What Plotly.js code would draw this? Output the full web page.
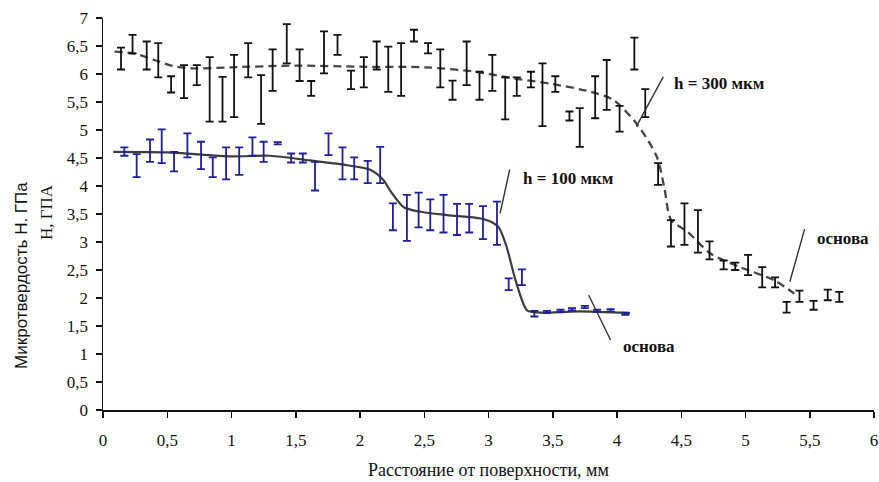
<!DOCTYPE html>
<html>
<head>
<meta charset="utf-8">
<script src="https://cdn.plot.ly/plotly-3.0.1.min.js"></script>
<style>html,body{margin:0;padding:0;background:#fff;}#chart{width:879px;height:482px;}</style>
</head>
<body>
<div id="chart"></div>
<script>
// h = 300 мкм : measured ranges (low / high) at each distance
const x300  = [0.14,0.23,0.34,0.43,0.53,0.63,0.73,0.83,0.93,1.02,1.13,1.23,1.32,1.43,1.53,1.62,1.72,1.825,1.93,2.03,2.13,2.22,2.32,2.42,2.53,2.625,2.72,2.83,2.93,3.03,3.13,3.22,3.33,3.42,3.52,3.63,3.71,3.83,3.92,4.02,4.135,4.22,4.32,4.42,4.525,4.63,4.72,4.83,4.92,5.02,5.13,5.23,5.32,5.42,5.53,5.64,5.73];
const lo300 = [6.08,6.37,6.08,5.94,5.67,5.57,5.80,5.15,5.15,5.23,5.94,5.11,5.70,6.19,5.875,5.61,6.01,6.34,5.73,5.76,6.08,5.68,5.61,6.58,6.37,5.76,5.54,5.80,5.54,5.70,5.19,5.61,5.76,5.07,5.68,5.17,4.70,5.21,5.36,4.97,6.08,5.23,4.02,2.92,2.95,2.81,2.69,2.51,2.50,2.41,2.19,2.19,1.74,1.93,1.79,1.96,1.93];
const hi300 = [6.47,6.70,6.58,6.55,5.96,6.16,6.16,6.30,5.95,6.34,6.55,5.98,6.44,6.89,6.44,5.875,6.76,6.70,6.06,6.30,6.58,6.49,6.55,6.79,6.55,6.44,5.88,6.58,6.04,6.34,5.94,5.94,6.04,6.19,5.96,5.33,5.39,5.96,6.25,5.43,6.65,5.73,4.41,3.39,3.69,3.57,3.01,2.67,2.63,2.77,2.55,2.37,1.93,2.13,1.95,2.15,2.11];
// trend curve (dashed) for h = 300 мкм
const curve300X = [0.09,0.25,0.4,0.55,0.7,1.0,1.5,2.0,2.5,2.9,3.2,3.5,3.8,3.97,4.16,4.31,4.37,4.42,4.55,4.73,4.96,5.22,5.38];
const curve300Y = [6.40,6.36,6.25,6.14,6.10,6.12,6.15,6.13,6.12,6.04,5.92,5.82,5.68,5.54,5.09,4.52,3.95,3.40,3.18,2.79,2.55,2.32,2.08];

// h = 100 мкм
const x100  = [0.166,0.262,0.366,0.457,0.553,0.657,0.763,0.854,0.958,1.06,1.163,1.25,1.36,1.464,1.555,1.65,1.755,1.864,1.955,2.06,2.157,2.256,2.365,2.456,2.547,2.65,2.755,2.85,2.957,3.066,3.157,3.26,3.357,3.455,3.56,3.65,3.75,3.845,3.95,4.065];
const lo100 = [4.54,4.16,4.43,4.41,4.26,4.51,4.30,4.16,4.12,4.20,4.54,4.43,4.745,4.42,4.42,3.92,4.55,4.12,4.12,4.05,4.05,3.21,3.02,3.26,3.21,3.17,3.125,3.17,3.05,2.95,2.14,2.23,1.67,1.73,1.75,1.78,1.82,1.75,1.76,1.70];
const hi100 = [4.69,4.57,4.83,5.01,4.61,4.94,4.79,4.51,4.69,4.69,4.87,4.79,4.785,4.58,4.58,4.43,4.94,4.69,4.51,4.45,4.70,3.69,3.84,3.88,3.76,3.84,3.68,3.68,3.64,3.72,2.35,2.51,1.77,1.77,1.79,1.82,1.86,1.79,1.80,1.74];
// trend curve (solid) for h = 100 мкм
const curve100X = [0.08,0.5,1.0,1.3,1.6,1.9,2.08,2.18,2.24,2.34,2.47,2.68,2.94,3.02,3.08,3.14,3.21,3.30,3.40,3.7,4.1];
const curve100Y = [4.61,4.60,4.53,4.54,4.46,4.37,4.29,4.11,3.90,3.62,3.54,3.48,3.42,3.36,3.26,2.92,2.32,1.78,1.74,1.76,1.73];

// labels and leader lines
const labels = ['h = 300 мкм','h = 100 мкм','основа','основа'];
const labelX = [4.43, 3.25, 4.03, 5.54];
const labelY = [5.83, 4.14, 1.13, 3.07];
const leadX = [[4.15,4.36],[3.09,3.165],[3.78,3.95],[5.345,5.46]];
const leadY = [[5.06,5.95],[3.51,4.29],[2.05,1.25],[2.29,3.23]];

const xTitle = 'Расстояние от поверхности, мм';
const yTitle1 = 'Микротвердость Н. ГПа';
const yTitle2 = 'Н, ГПА';

function mid(lo, hi){ return lo.map((v,i)=>(v+hi[i])/2); }
function half(lo, hi){ return lo.map((v,i)=>(hi[i]-v)/2); }

const traces = [];
traces.push({x:curve300X, y:curve300Y, mode:'lines', line:{shape:'spline', smoothing:0.8, color:'#444', width:2.3, dash:'8px,5px'}, hoverinfo:'skip'});
traces.push({x:curve100X, y:curve100Y, mode:'lines', line:{shape:'spline', smoothing:0.7, color:'#3c3c3c', width:2.2}, hoverinfo:'skip'});
traces.push({x:x300, y:mid(lo300,hi300), mode:'markers', marker:{size:1, color:'rgba(0,0,0,0)'},
  error_y:{type:'data', symmetric:true, array:half(lo300,hi300), color:'#111', thickness:1.8, width:4}});
traces.push({x:x100, y:mid(lo100,hi100), mode:'markers', marker:{size:1, color:'rgba(0,0,0,0)'},
  error_y:{type:'data', symmetric:true, array:half(lo100,hi100), color:'#1f1f98', thickness:1.8, width:4}});
leadX.forEach((lx,i)=>{
  traces.push({x:lx, y:leadY[i], mode:'lines', line:{color:'#333', width:1.4}, hoverinfo:'skip'});
});

const annotations = labels.map((t,i)=>({
  x:labelX[i], y:labelY[i], xref:'x', yref:'y', text:'<b>'+t+'</b>', showarrow:false,
  xanchor:'left', yanchor:'middle',
  font:{family:'Liberation Serif, Times New Roman, serif', size:17, color:'#111'}
}));
annotations.push({xref:'paper', yref:'paper', x:-0.1067, y:0.344, text:yTitle1, textangle:-90, showarrow:false,
  xanchor:'center', yanchor:'middle', font:{family:'Liberation Sans, Arial, sans-serif', size:17, color:'#111'}});
annotations.push({xref:'paper', yref:'paper', x:-0.0739, y:0.505, text:yTitle2, textangle:-90, showarrow:false,
  xanchor:'center', yanchor:'middle', font:{family:'Liberation Serif, Times New Roman, serif', size:17, color:'#111'}});

const tickFont = {family:'Liberation Serif, Times New Roman, serif', size:17, color:'#111'};
const layout = {
  width:879, height:482,
  margin:{l:103, r:5, t:18, b:72},
  paper_bgcolor:'#fff', plot_bgcolor:'#fff',
  showlegend:false,
  separators:', ',
  xaxis:{range:[0,6], dtick:0.5, tick0:0, showgrid:false, zeroline:false, showline:true, linecolor:'#111', linewidth:1.5,
    ticks:'outside', ticklen:6, tickwidth:1.5, tickcolor:'#111', tickfont:tickFont, ticklabelstandoff:8,
    title:{text:xTitle, font:{family:'Liberation Serif, Times New Roman, serif', size:18, color:'#111'}, standoff:14}},
  yaxis:{range:[0,7], dtick:0.5, tick0:0, showgrid:false, zeroline:false, showline:true, linecolor:'#111', linewidth:1.5,
    ticks:'outside', ticklen:6, tickwidth:1.5, tickcolor:'#111', tickfont:tickFont, ticklabelstandoff:4},
  annotations:annotations
};
Plotly.newPlot('chart', traces, layout, {staticPlot:true, displayModeBar:false});
</script>
</body>
</html>
